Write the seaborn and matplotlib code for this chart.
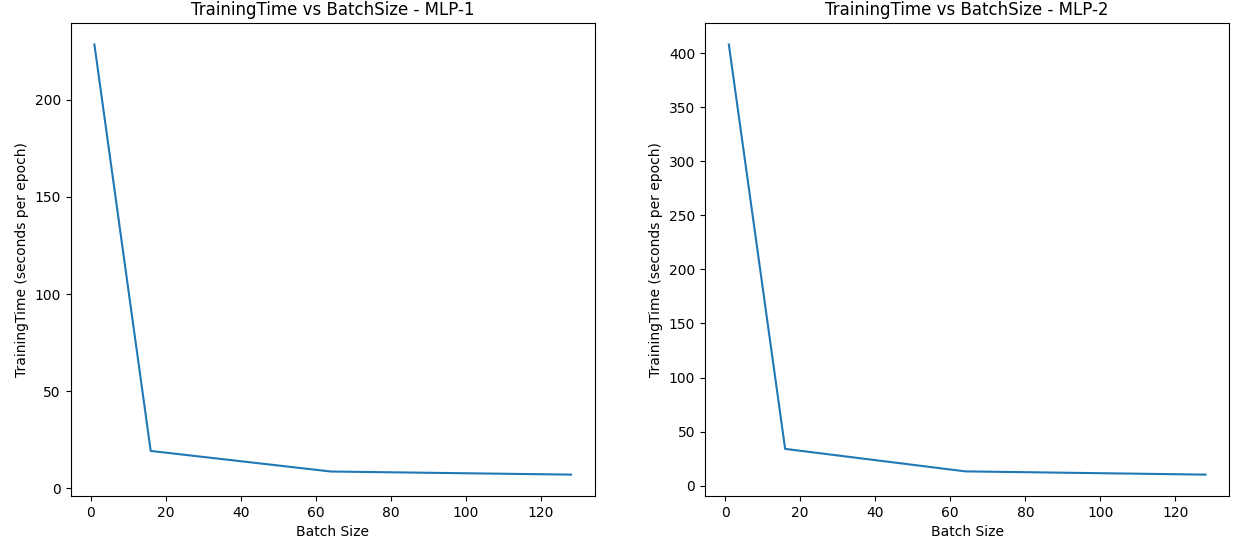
import matplotlib
matplotlib.use("Agg")
import matplotlib.pyplot as plt
import seaborn as sns
import pandas as pd

batch_sizes = [1, 16, 64, 128]
mlp1_time = [228.5, 19.2, 8.6, 7.0]
mlp2_time = [408.0, 34.0, 13.2, 10.2]

fig, axes = plt.subplots(1, 2, figsize=(12.38, 5.47), dpi=100)
fig.subplots_adjust(left=0.057, right=0.993, bottom=0.093, top=0.958, wspace=0.21)

for ax, times, name in zip(axes, [mlp1_time, mlp2_time], ["MLP-1", "MLP-2"]):
    df = pd.DataFrame({"Batch Size": batch_sizes, "TrainingTime": times})
    sns.lineplot(data=df, x="Batch Size", y="TrainingTime", ax=ax)
    ax.set_title("TrainingTime vs BatchSize - " + name)
    ax.set_xlabel("Batch Size")
    ax.set_ylabel("TrainingTime (seconds per epoch)")

plt.savefig("out.png")
